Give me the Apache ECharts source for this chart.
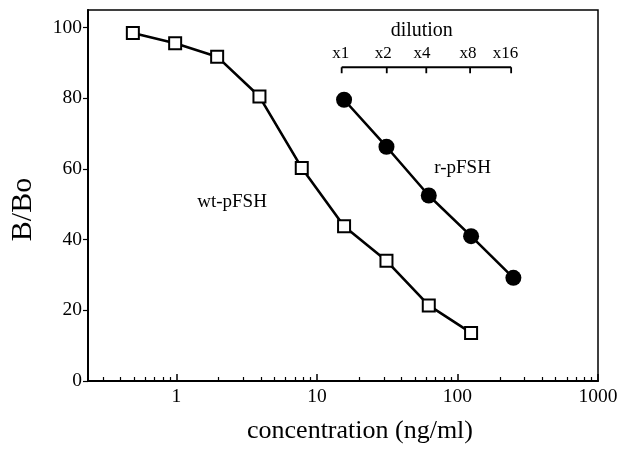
<!DOCTYPE html>
<html>
<head>
<meta charset="utf-8">
<script src="https://cdn.jsdelivr.net/npm/echarts@6/dist/echarts.min.js"></script>
<style>
html,body{margin:0;padding:0;background:#fff;}
#chart{width:628px;height:449px;}
</style>
</head>
<body>
<div id="chart"></div>
<script>
// ---- data ----
const wtConc = [0.49, 0.98, 1.95, 3.9, 7.8, 15.6, 31.25, 62.5, 125];
const wtBB   = [98.5, 95.6, 91.8, 80.5, 60.3, 43.8, 34.0, 21.4, 13.6];
const rConc  = [15.6, 31.25, 62.5, 125, 250];
const rBB    = [79.6, 66.3, 52.5, 41.0, 29.2];

const dilutionLabels    = ['x1', 'x2', 'x4', 'x8', 'x16'];
const dilutionConc      = [15, 31.4, 60, 123, 241];
const dilutionLabelConc = [14.8, 29.6, 56.0, 119, 220];
const dilutionLevel     = 88.8;

const xMajorTicks = [1, 10, 100, 1000];
const xMinorTicks = [0.3,0.4,0.5,0.6,0.7,0.8,0.9, 2,3,4,5,6,7,8,9, 20,30,40,50,60,70,80,90, 200,300,400,500,600,700,800,900];
const yTicks = [0, 20, 40, 60, 80, 100];

const noteText = ['wt-pFSH', 'r-pFSH', 'dilution'];
const noteConc = [2.49, 108.7, 55.7];
const noteBB   = [50.6, 60.4, 99.0];
const noteSize = [19, 19, 20];

const FONT = '"Liberation Serif", "Times New Roman", serif';

const chart = echarts.init(document.getElementById('chart'), null, {renderer: 'canvas'});

chart.setOption({
  animation: false,
  backgroundColor: '#fff',
  grid: {left: 88, right: 30, top: 10, bottom: 64, show: true, borderColor: '#000', borderWidth: 1.5, containLabel: false},
  xAxis: [
    {
      type: 'log', logBase: 10, min: 0.235, max: 1000,
      position: 'bottom',
      axisLine: {show: true, lineStyle: {color: '#000', width: 2}},
      axisTick: {show: true, inside: true, length: 7, customValues: xMajorTicks, lineStyle: {color: '#000', width: 1.5}},
      axisLabel: {show: true, customValues: xMajorTicks, margin: 6, fontSize: 19.5, fontFamily: FONT, color: '#000',
        formatter: v => String(Math.round(v))},
      splitLine: {show: false},
      minorTick: {show: false},
      name: 'concentration (ng/ml)', nameLocation: 'middle', nameGap: 37,
      nameTextStyle: {fontSize: 26, fontFamily: FONT, color: '#000', padding: [0, 0, 0, 34]}
    },
    {
      type: 'log', logBase: 10, min: 0.235, max: 1000,
      position: 'bottom',
      axisLine: {show: false},
      axisTick: {show: true, inside: true, length: 4, customValues: xMinorTicks, lineStyle: {color: '#000', width: 1.2}},
      axisLabel: {show: false},
      splitLine: {show: false}
    }
  ],
  yAxis: {
    type: 'value', min: 0, max: 105,
    axisLine: {show: true, lineStyle: {color: '#000', width: 2}},
    axisTick: {show: true, inside: false, length: 5, customValues: yTicks, lineStyle: {color: '#000', width: 1.2}},
    axisLabel: {show: true, customValues: yTicks, margin: 6, fontSize: 19.5, fontFamily: FONT, color: '#000'},
    splitLine: {show: false},
    name: 'B/Bo', nameLocation: 'middle', nameGap: 50,
    nameTextStyle: {fontSize: 30, fontFamily: FONT, color: '#000', padding: [0, 28, 0, 0]}
  },
  series: [
    {
      name: 'wt-pFSH', type: 'line',
      data: wtConc.map((c, i) => [c, wtBB[i]]),
      lineStyle: {color: '#000', width: 2.6},
      symbol: 'rect', symbolSize: 12,
      itemStyle: {color: '#fff', borderColor: '#000', borderWidth: 2},
      z: 3
    },
    {
      name: 'r-pFSH', type: 'line',
      data: rConc.map((c, i) => [c, rBB[i]]),
      lineStyle: {color: '#000', width: 2.6},
      symbol: 'circle', symbolSize: 16,
      itemStyle: {color: '#000', borderColor: '#000', borderWidth: 0},
      z: 4
    },
    {
      name: 'dilution bar', type: 'line',
      data: [[dilutionConc[0], dilutionLevel], [dilutionConc[dilutionConc.length - 1], dilutionLevel]],
      lineStyle: {color: '#000', width: 2},
      symbol: 'none', silent: true
    },
    {
      name: 'dilution ticks', type: 'custom', silent: true,
      data: dilutionConc.map((c, i) => [c, dilutionLevel, dilutionLabelConc[i]]),
      renderItem: function (params, api) {
        const p = api.coord([api.value(0), api.value(1)]);
        const q = api.coord([api.value(2), api.value(1)]);
        return {
          type: 'group',
          children: [
            {type: 'line', shape: {x1: p[0], y1: p[1], x2: p[0], y2: p[1] + 6}, style: {stroke: '#000', lineWidth: 1.8}},
            {type: 'text', x: q[0], y: p[1] - 14,
              style: {text: dilutionLabels[params.dataIndex], fill: '#000', fontSize: 17, fontFamily: FONT, align: 'center', verticalAlign: 'middle'}}
          ]
        };
      }
    },
    {
      name: 'notes', type: 'custom', silent: true,
      data: noteConc.map((c, i) => [c, noteBB[i]]),
      renderItem: function (params, api) {
        const p = api.coord([api.value(0), api.value(1)]);
        return {type: 'text', x: p[0], y: p[1],
          style: {text: noteText[params.dataIndex], fill: '#000', fontSize: noteSize[params.dataIndex], fontFamily: FONT, align: 'center', verticalAlign: 'middle'}};
      }
    }
  ]
});
</script>
</body>
</html>
